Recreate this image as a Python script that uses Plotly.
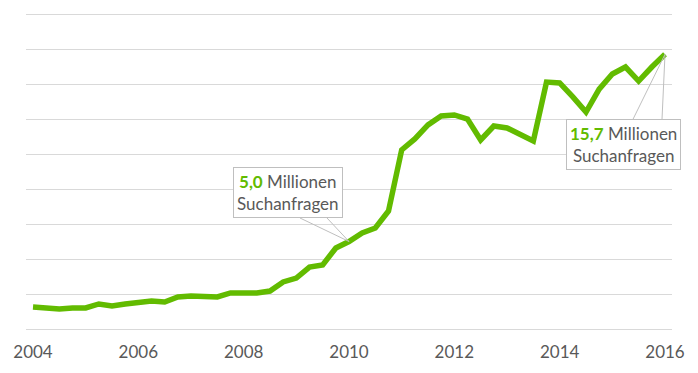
import plotly.graph_objects as go

# Quarterly data points 2004 Q1 .. 2016 Q1 (millions of search queries)
start_year = 2004
values = [1.26, 1.20, 1.14, 1.20, 1.20, 1.43, 1.31, 1.43, 1.54, 1.60,
          1.54, 1.83, 1.89, 1.89, 1.83, 2.06, 2.06, 2.06, 2.17, 2.69,
          2.91, 3.54, 3.66, 4.63, 5.00, 5.49, 5.77, 6.74, 10.23, 10.86,
          11.66, 12.17, 12.23, 12.00, 10.80, 11.60, 11.49, 11.14, 10.74, 14.11,
          14.06, 13.26, 12.40, 13.71, 14.57, 14.97, 14.17, 14.97, 15.70]
x_vals = [start_year + i * 0.25 for i in range(len(values))]
tick_vals = [2004, 2006, 2008, 2010, 2012, 2014, 2016]
tick_text = ["2004", "2006", "2008", "2010", "2012", "2014", "2016"]

callout_points = [(2010.0, 5.0, "5,0"), (2016.0, 15.7, "15,7")]

GREEN = "#62bb00"
GRAY_TXT = "#595959"
GRID = "#d9d9d9"
FONT = "Lato"

fig = go.Figure()
fig.add_trace(go.Scatter(x=x_vals, y=values, mode="lines",
                         line=dict(color=GREEN, width=5.5), hoverinfo="skip"))

# callout boxes (offsets in pixels from the data point)
box_offsets = [(-61, -49), (-42, 90)]
wedge_paths = ["M -49,23.5 L 0,0 L -22,23.5", "M -32,-65 L 0,0 L -3,-65"]
for (px, py, lab), (ax, ay), wp in zip(callout_points, box_offsets, wedge_paths):
    fig.add_shape(type="path", xref="x", yref="y", xsizemode="pixel", ysizemode="pixel",
                  xanchor=px, yanchor=py, path=wp,
                  line=dict(color="#bfbfbf", width=1))
    fig.add_annotation(x=px, y=py, xref="x", yref="y", ax=ax, ay=ay,
                       axref="pixel", ayref="pixel",
                       showarrow=True, arrowcolor="rgba(0,0,0,0)", arrowwidth=0.1,
                       text=f"<b><span style='color:{GREEN}'>{lab}</span></b> Millionen<br>Suchanfragen",
                       font=dict(family=FONT, size=17, color=GRAY_TXT),
                       bgcolor="white", bordercolor="#bfbfbf", borderwidth=1, borderpad=3,
                       align="center")

# the page body has an 8px default margin; compensate in figure size/margins
fig.update_layout(
    width=690, height=365,
    margin=dict(l=18, r=26, t=1, b=44),
    paper_bgcolor="white", plot_bgcolor="white",
    showlegend=False,
    font=dict(family=FONT, color=GRAY_TXT),
    xaxis=dict(range=[2003.867, 2016.133], tickvals=tick_vals, ticktext=tick_text,
               showgrid=False, zeroline=False, showline=False, ticks="",
               automargin=False, ticklabelstandoff=11,
               tickfont=dict(family=FONT, size=17, color=GRAY_TXT)),
    yaxis=dict(range=[0, 18.2857], tickvals=[0, 2, 4, 6, 8, 10, 12, 14, 16, 18],
               showgrid=True, gridcolor=GRID, gridwidth=1,
               zeroline=True, zerolinecolor=GRID, zerolinewidth=1,
               automargin=False,
               showticklabels=False, ticks=""),
)

fig.write_html("out.html")
